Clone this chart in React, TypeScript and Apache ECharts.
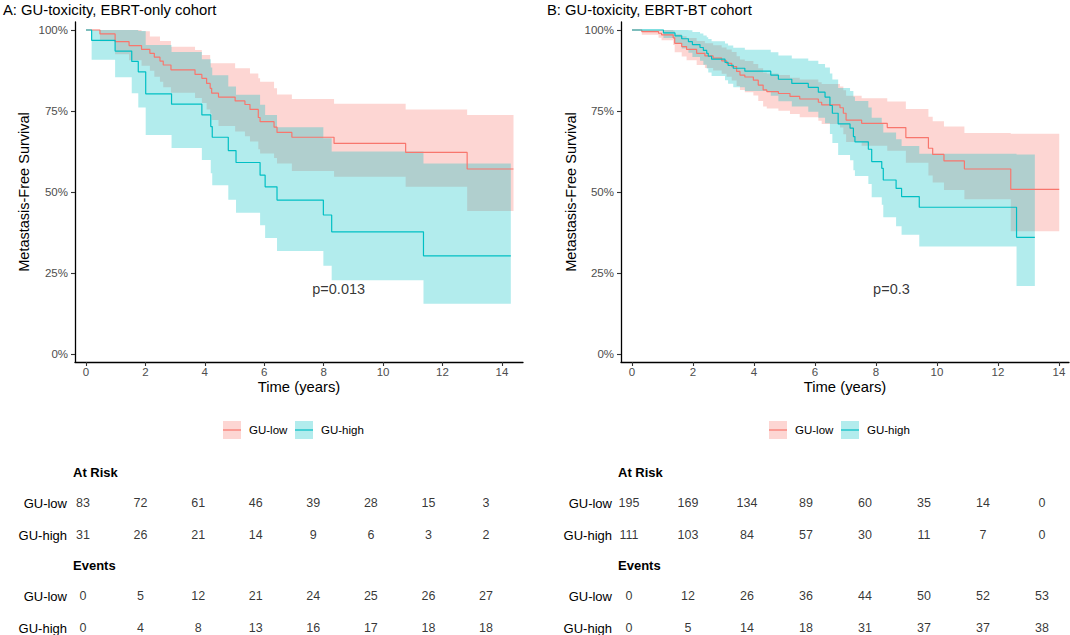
import React, { useEffect, useRef } from 'react';
import * as echarts from 'echarts';

const FONT = '"Liberation Sans", Arial, Helvetica, sans-serif';
const RED = '#F8766D';
const TEAL = '#00BFC4';
const RED_FILL = 'rgba(248,118,109,0.3)';
const TEAL_FILL = 'rgba(0,191,196,0.3)';

// ---------- Panel A: EBRT-only cohort ----------
const aLowTime = [0, 0.47, 0.98, 1.45, 1.87, 2.15, 2.3, 2.49, 2.6, 2.86, 3.67, 3.9, 4.06, 4.18, 4.23, 4.46, 5.02, 5.35, 5.52, 5.8, 5.86, 6.33, 6.43, 6.93, 8.35, 10.76, 12.83, 14.39];
const aLowSurv = [1, 0.988, 0.964, 0.952, 0.94, 0.928, 0.916, 0.904, 0.892, 0.877, 0.863, 0.851, 0.835, 0.82, 0.805, 0.793, 0.781, 0.77, 0.755, 0.73, 0.717, 0.7, 0.684, 0.669, 0.65, 0.622, 0.571, 0.571];
const aLowUpper = [1, 1, 1, 1, 0.996, 0.98, 0.98, 0.966, 0.966, 0.948, 0.938, 0.923, 0.923, 0.897, 0.897, 0.897, 0.882, 0.882, 0.866, 0.851, 0.84, 0.82, 0.801, 0.787, 0.772, 0.755, 0.738, 0.738];
const aLowLower = [1, 0.965, 0.925, 0.907, 0.89, 0.874, 0.856, 0.84, 0.823, 0.806, 0.79, 0.775, 0.755, 0.742, 0.722, 0.704, 0.687, 0.672, 0.656, 0.632, 0.619, 0.605, 0.588, 0.565, 0.547, 0.516, 0.441, 0.441];

const aHighTime = [0, 0.19, 0.98, 1.54, 1.76, 2.01, 2.88, 3.9, 4.2, 4.25, 4.79, 5.05, 5.86, 6.03, 6.43, 7.99, 8.27, 11.36, 14.3];
const aHighSurv = [1, 0.968, 0.935, 0.903, 0.871, 0.803, 0.771, 0.738, 0.702, 0.669, 0.628, 0.591, 0.552, 0.516, 0.475, 0.429, 0.377, 0.303, 0.303];
const aHighUpper = [1, 1, 1, 1, 0.997, 0.954, 0.932, 0.91, 0.884, 0.86, 0.826, 0.8, 0.769, 0.738, 0.7, 0.666, 0.625, 0.588, 0.588];
const aHighLower = [1, 0.908, 0.854, 0.805, 0.761, 0.676, 0.636, 0.599, 0.558, 0.521, 0.476, 0.436, 0.397, 0.358, 0.318, 0.272, 0.228, 0.155, 0.155];

// ---------- Panel B: EBRT-BT cohort ----------
const bLowTime = [0, 0.32, 0.87, 0.97, 1.35, 1.4, 1.63, 1.79, 2.12, 2.39, 2.66, 2.94, 3.1, 3.27, 3.43, 3.54, 3.7, 3.98, 4.14, 4.3, 4.42, 4.8, 5.18, 5.5, 6.11, 6.22, 6.82, 6.93, 7.02, 7.53, 8.37, 8.98, 9.72, 9.86, 10.23, 10.9, 12.42, 14.01];
const bLowSurv = [1, 0.995, 0.99, 0.985, 0.976, 0.959, 0.949, 0.94, 0.928, 0.92, 0.913, 0.905, 0.897, 0.887, 0.872, 0.861, 0.855, 0.845, 0.83, 0.815, 0.81, 0.804, 0.795, 0.787, 0.777, 0.769, 0.76, 0.743, 0.722, 0.712, 0.699, 0.668, 0.635, 0.616, 0.596, 0.571, 0.508, 0.508];
const bLowUpper = [1, 1, 1, 1, 0.998, 0.987, 0.981, 0.975, 0.966, 0.959, 0.953, 0.946, 0.94, 0.932, 0.919, 0.909, 0.904, 0.895, 0.882, 0.869, 0.866, 0.861, 0.853, 0.847, 0.839, 0.833, 0.826, 0.814, 0.797, 0.789, 0.779, 0.756, 0.732, 0.718, 0.702, 0.682, 0.68, 0.68];
const bLowLower = [1, 0.985, 0.976, 0.968, 0.954, 0.931, 0.918, 0.907, 0.892, 0.883, 0.875, 0.865, 0.856, 0.844, 0.827, 0.815, 0.808, 0.798, 0.781, 0.764, 0.758, 0.751, 0.741, 0.731, 0.72, 0.71, 0.699, 0.678, 0.654, 0.643, 0.627, 0.59, 0.551, 0.529, 0.506, 0.478, 0.379, 0.379];

const bHighTime = [0, 1.03, 1.41, 1.63, 1.85, 1.98, 2.23, 2.34, 2.45, 2.5, 2.61, 3.05, 3.15, 3.32, 3.7, 4.55, 4.8, 5.24, 5.78, 6.11, 6.33, 6.49, 6.57, 6.76, 7.15, 7.26, 7.31, 7.75, 7.86, 8.19, 8.24, 8.66, 8.84, 9.42, 12.61, 13.21];
const bHighSurv = [1, 0.991, 0.982, 0.973, 0.964, 0.955, 0.946, 0.937, 0.928, 0.919, 0.91, 0.9, 0.891, 0.882, 0.873, 0.861, 0.848, 0.835, 0.823, 0.808, 0.793, 0.767, 0.743, 0.71, 0.697, 0.671, 0.655, 0.632, 0.594, 0.573, 0.537, 0.511, 0.486, 0.453, 0.36, 0.36];
const bHighUpper = [1, 1, 1, 1, 0.999, 0.994, 0.989, 0.983, 0.978, 0.972, 0.965, 0.958, 0.952, 0.945, 0.939, 0.931, 0.921, 0.912, 0.905, 0.895, 0.884, 0.866, 0.847, 0.821, 0.812, 0.794, 0.781, 0.761, 0.729, 0.712, 0.684, 0.663, 0.642, 0.618, 0.616, 0.616];
const bHighLower = [1, 0.975, 0.958, 0.943, 0.93, 0.917, 0.905, 0.893, 0.881, 0.869, 0.858, 0.845, 0.834, 0.823, 0.812, 0.797, 0.78, 0.764, 0.748, 0.729, 0.712, 0.679, 0.651, 0.614, 0.598, 0.567, 0.549, 0.525, 0.484, 0.461, 0.422, 0.394, 0.368, 0.332, 0.21, 0.21];

// ---------- Risk tables ----------
const tableTimes = [0, 2, 4, 6, 8, 10, 12, 14];
const groups = ['GU-low', 'GU-high'];
const aRiskLow = [83, 72, 61, 46, 39, 28, 15, 3];
const aRiskHigh = [31, 26, 21, 14, 9, 6, 3, 2];
const aEventsLow = [0, 5, 12, 21, 24, 25, 26, 27];
const aEventsHigh = [0, 4, 8, 13, 16, 17, 18, 18];
const bRiskLow = [195, 169, 134, 89, 60, 35, 14, 0];
const bRiskHigh = [111, 103, 84, 57, 30, 11, 7, 0];
const bEventsLow = [0, 12, 26, 36, 44, 50, 52, 53];
const bEventsHigh = [0, 5, 14, 18, 31, 37, 37, 38];

// ---------- Axes / labels ----------
const xTicks = [0, 2, 4, 6, 8, 10, 12, 14];
const yTicks = [0, 0.25, 0.5, 0.75, 1];
const panelTitles = ['A: GU-toxicity, EBRT-only cohort', 'B: GU-toxicity, EBRT-BT cohort'];
const pValues = ['p=0.013', 'p=0.3'];
const pValuePos = [[7.6, 0.2], [7.89, 0.2]];

function bandSeries(axis: number, t: number[], hi: number[], lo: number[], fill: string) {
  return {
    type: 'custom',
    xAxisIndex: axis,
    yAxisIndex: axis,
    silent: true,
    data: t.map((x, i) => [x, lo[i], hi[i]]),
    encode: { x: 0, y: [1, 2] },
    renderItem: (params: any, api: any) => {
      if (params.dataIndex !== 0) return null;
      const upper: number[][] = [];
      const lower: number[][] = [];
      for (let i = 0; i < t.length; i++) {
        const tNext = i < t.length - 1 ? t[i + 1] : t[i];
        upper.push(api.coord([t[i], hi[i]]), api.coord([tNext, hi[i]]));
        lower.push(api.coord([t[i], lo[i]]), api.coord([tNext, lo[i]]));
      }
      return {
        type: 'polygon',
        shape: { points: upper.concat(lower.reverse()) },
        style: { fill, stroke: 'none' },
      };
    },
  };
}

function lineSeries(axis: number, t: number[], s: number[], color: string) {
  return {
    type: 'line',
    xAxisIndex: axis,
    yAxisIndex: axis,
    step: 'end',
    symbol: 'none',
    showSymbol: false,
    silent: true,
    data: t.map((x, i) => [x, s[i]]),
    lineStyle: { color, width: 1.2 },
    itemStyle: { color },
  };
}

function tableSeries(axis: number, low: number[], high: number[]) {
  const data = [
    ...tableTimes.map((t, i) => [t, groups[0], low[i]]),
    ...tableTimes.map((t, i) => [t, groups[1], high[i]]),
  ];
  return {
    type: 'scatter',
    xAxisIndex: axis,
    yAxisIndex: axis,
    data,
    symbolSize: 1,
    clip: false,
    silent: true,
    itemStyle: { color: 'rgba(0,0,0,0)' },
    label: {
      show: true,
      position: 'inside',
      formatter: (p: any) => String(p.value[2]),
      fontSize: 12.5,
      color: '#000',
      fontFamily: FONT,
    },
  };
}

function plotXAxis(grid: number, min: number, max: number) {
  return {
    type: 'value',
    gridIndex: grid,
    min,
    max,
    axisLine: { show: true, onZero: false, lineStyle: { color: '#000', width: 1.3 } },
    axisTick: { show: true, length: 4, lineStyle: { color: '#333', width: 1.1 }, customValues: xTicks },
    axisLabel: { show: true, customValues: xTicks, color: '#4D4D4D', fontSize: 11.5, margin: 4, fontFamily: FONT },
    splitLine: { show: false },
  };
}

function plotYAxis(grid: number) {
  return {
    type: 'value',
    gridIndex: grid,
    min: -0.0247,
    max: 1.0247,
    axisLine: { show: true, onZero: false, lineStyle: { color: '#000', width: 1.3 } },
    axisTick: { show: true, length: 4, lineStyle: { color: '#333', width: 1.1 }, customValues: yTicks },
    axisLabel: {
      show: true,
      customValues: yTicks,
      color: '#4D4D4D',
      fontSize: 11.5,
      margin: 7,
      fontFamily: FONT,
      formatter: (v: number) => Math.round(v * 100) + '%',
    },
    splitLine: { show: false },
  };
}

function tableXAxis(grid: number) {
  return { type: 'value', gridIndex: grid, min: 0, max: 14, show: false };
}

function tableYAxis(grid: number, margin: number) {
  return {
    type: 'category',
    gridIndex: grid,
    data: groups,
    inverse: true,
    boundaryGap: false,
    axisLine: { show: false },
    axisTick: { show: false },
    splitLine: { show: false },
    axisLabel: { color: '#000', fontSize: 13, margin, fontFamily: FONT },
  };
}

function txt(x: number, y: number, text: string, opts: any = {}) {
  const align = opts.align || 'left';
  return {
    type: 'text',
    x,
    y,
    rotation: opts.rotation || 0,
    silent: true,
    style: {
      text,
      fill: opts.color || '#000',
      fontSize: opts.fontSize || 13,
      fontFamily: FONT,
      fontWeight: opts.bold ? 'bold' : 'normal',
      align,
      verticalAlign: 'middle',
      textAlign: align,
      textVerticalAlign: 'middle',
    },
  };
}

function legendKey(x: number, y: number, color: string, fill: string, label: string) {
  return [
    { type: 'rect', silent: true, shape: { x, y: y - 9, width: 18, height: 18 }, style: { fill } },
    { type: 'line', silent: true, shape: { x1: x, y1: y, x2: x + 18, y2: y }, style: { stroke: color, lineWidth: 1.2 } },
    txt(x + 26, y, label, { fontSize: 11.5 }),
  ];
}

function buildOption() {
  const gridBase = { containLabel: false, outerBoundsMode: 'none' };
  return {
    animation: false,
    backgroundColor: '#fff',
    textStyle: { fontFamily: FONT },
    grid: [
      { ...gridBase, left: 75, top: 22, width: 448, height: 340 },
      { ...gridBase, left: 621, top: 22, width: 448, height: 340 },
      { ...gridBase, left: 83, top: 503, width: 403, height: 32 },
      { ...gridBase, left: 83, top: 596, width: 403, height: 32 },
      { ...gridBase, left: 629, top: 503, width: 413, height: 32 },
      { ...gridBase, left: 629, top: 596, width: 413, height: 32 },
    ],
    xAxis: [
      plotXAxis(0, -0.37, 14.71),
      plotXAxis(1, -0.361, 14.33),
      tableXAxis(2),
      tableXAxis(3),
      tableXAxis(4),
      tableXAxis(5),
    ],
    yAxis: [
      plotYAxis(0),
      plotYAxis(1),
      tableYAxis(2, 16),
      tableYAxis(3, 16),
      tableYAxis(4, 17),
      tableYAxis(5, 17),
    ],
    series: [
      bandSeries(0, aLowTime, aLowUpper, aLowLower, RED_FILL),
      lineSeries(0, aLowTime, aLowSurv, RED),
      bandSeries(0, aHighTime, aHighUpper, aHighLower, TEAL_FILL),
      lineSeries(0, aHighTime, aHighSurv, TEAL),
      bandSeries(1, bLowTime, bLowUpper, bLowLower, RED_FILL),
      lineSeries(1, bLowTime, bLowSurv, RED),
      bandSeries(1, bHighTime, bHighUpper, bHighLower, TEAL_FILL),
      lineSeries(1, bHighTime, bHighSurv, TEAL),
      ...[0, 1].map((k) => ({
        type: 'scatter',
        xAxisIndex: k,
        yAxisIndex: k,
        data: [pValuePos[k]],
        symbolSize: 1,
        silent: true,
        itemStyle: { color: 'rgba(0,0,0,0)' },
        label: { show: true, position: 'right', distance: 0, formatter: pValues[k], fontSize: 14.5, color: '#000', fontFamily: FONT },
      })),
      tableSeries(2, aRiskLow, aRiskHigh),
      tableSeries(3, aEventsLow, aEventsHigh),
      tableSeries(4, bRiskLow, bRiskHigh),
      tableSeries(5, bEventsLow, bEventsHigh),
    ],
    graphic: [
      txt(3, 10, panelTitles[0], { fontSize: 14.8 }),
      txt(547, 10, panelTitles[1], { fontSize: 14.8 }),
      txt(24, 192, 'Metastasis-Free Survival', { fontSize: 14.5, align: 'center', rotation: Math.PI / 2 }),
      txt(571, 192, 'Metastasis-Free Survival', { fontSize: 14.5, align: 'center', rotation: Math.PI / 2 }),
      txt(299, 387, 'Time (years)', { fontSize: 14.8, align: 'center' }),
      txt(845, 387, 'Time (years)', { fontSize: 14.8, align: 'center' }),
      ...legendKey(223, 430, RED, RED_FILL, 'GU-low'),
      ...legendKey(295, 430, TEAL, TEAL_FILL, 'GU-high'),
      ...legendKey(769, 430, RED, RED_FILL, 'GU-low'),
      ...legendKey(841, 430, TEAL, TEAL_FILL, 'GU-high'),
      txt(73, 472, 'At Risk', { bold: true }),
      txt(73, 565, 'Events', { bold: true }),
      txt(618, 472, 'At Risk', { bold: true }),
      txt(618, 565, 'Events', { bold: true }),
    ],
  };
}

export default function App() {
  const ref = useRef<HTMLDivElement>(null);
  useEffect(() => {
    if (!ref.current) return;
    const chart = echarts.init(ref.current, null, { renderer: 'svg' });
    chart.setOption(buildOption() as any);
    return () => chart.dispose();
  }, []);
  return (
    <div
      ref={ref}
      style={{ position: 'absolute', left: 0, top: 0, width: 1070, height: 635, background: '#fff' }}
    />
  );
}
